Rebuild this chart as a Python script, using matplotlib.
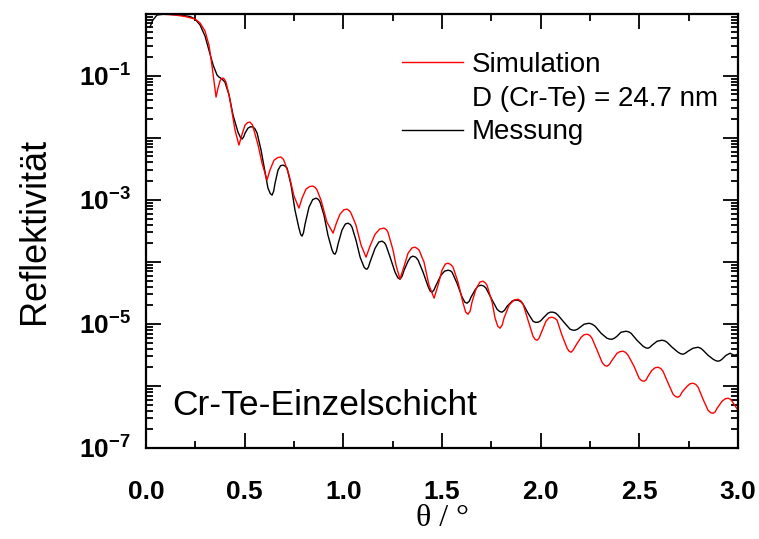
import numpy as np
import matplotlib
matplotlib.use("Agg")
import matplotlib.pyplot as plt
from matplotlib.lines import Line2D
from matplotlib.ticker import FixedLocator, FixedFormatter, LogLocator, NullFormatter, MultipleLocator

plt.rcParams['font.family'] = ['Liberation Sans', 'DejaVu Sans']
plt.rcParams['mathtext.fontset'] = 'custom'
plt.rcParams['mathtext.rm'] = 'Liberation Sans'
plt.rcParams['mathtext.bf'] = 'Liberation Sans:bold'

# ---- data: theta (deg) and log10(reflectivity) ----
sim_theta = [0.000, 0.071, 0.147, 0.198, 0.248, 0.274, 0.299, 0.319, 0.334, 0.345, 0.355,
             0.365, 0.375, 0.383, 0.390, 0.397, 0.405, 0.421, 0.436, 0.451, 0.471, 0.487,
             0.502, 0.515, 0.527, 0.539, 0.547, 0.568, 0.588, 0.613, 0.628, 0.649, 0.668,
             0.684, 0.696, 0.704, 0.725, 0.750, 0.775, 0.791, 0.811, 0.830, 0.846, 0.859,
             0.867, 0.887, 0.917, 0.948, 0.963, 0.983, 1.003, 1.019, 1.032, 1.039, 1.064,
             1.090, 1.115, 1.135, 1.161, 1.185, 1.206, 1.218, 1.226, 1.252, 1.267, 1.287,
             1.308, 1.328, 1.348, 1.363, 1.375, 1.384, 1.409, 1.434, 1.460, 1.480, 1.500,
             1.517, 1.531, 1.545, 1.556, 1.581, 1.607, 1.620, 1.632, 1.643, 1.652, 1.672,
             1.692, 1.708, 1.720, 1.728, 1.754, 1.769, 1.783, 1.794, 1.805, 1.814, 1.840,
             1.865, 1.885, 1.900, 1.911, 1.936, 1.961, 1.972, 1.982, 1.992, 2.002, 2.027,
             2.043, 2.058, 2.072, 2.083, 2.108, 2.134, 2.144, 2.154, 2.165, 2.179, 2.205,
             2.220, 2.235, 2.249, 2.260, 2.286, 2.311, 2.324, 2.336, 2.348, 2.362, 2.387,
             2.402, 2.417, 2.431, 2.443, 2.473, 2.499, 2.512, 2.524, 2.535, 2.544, 2.564,
             2.580, 2.595, 2.609, 2.620, 2.646, 2.671, 2.684, 2.696, 2.706, 2.716, 2.742,
             2.757, 2.772, 2.786, 2.798, 2.823, 2.848, 2.862, 2.874, 2.884, 2.894, 2.919,
             2.935, 2.950, 2.962, 2.970, 2.990, 3.000]
sim_logR = [-0.005, -0.005, -0.021, -0.045, -0.085, -0.150, -0.279, -0.505, -0.827, -1.102, -1.344,
            -1.198, -1.085, -1.045, -1.037, -1.055, -1.102, -1.311, -1.585, -1.876, -2.118, -1.940,
            -1.795, -1.755, -1.747, -1.790, -1.876, -2.118, -2.408, -2.682, -2.521, -2.360, -2.318,
            -2.311, -2.345, -2.408, -2.602, -2.940, -3.134, -2.973, -2.827, -2.785, -2.779, -2.805,
            -2.844, -3.005, -3.360, -3.537, -3.392, -3.231, -3.160, -3.150, -3.180, -3.215, -3.408,
            -3.731, -3.924, -3.747, -3.553, -3.470, -3.456, -3.480, -3.521, -3.811, -4.053, -4.279,
            -4.069, -3.860, -3.775, -3.763, -3.785, -3.811, -4.005, -4.376, -4.585, -4.376, -4.134,
            -4.035, -4.021, -4.045, -4.085, -4.327, -4.666, -4.810, -4.844, -4.790, -4.650, -4.440,
            -4.325, -4.311, -4.340, -4.376, -4.650, -4.908, -5.040, -5.069, -5.020, -4.908, -4.698,
            -4.615, -4.602, -4.630, -4.682, -4.940, -5.198, -5.250, -5.263, -5.230, -5.150, -4.956,
            -4.900, -4.892, -4.910, -4.940, -5.182, -5.392, -5.440, -5.456, -5.420, -5.344, -5.215,
            -5.175, -5.166, -5.185, -5.231, -5.424, -5.618, -5.670, -5.682, -5.655, -5.585, -5.473,
            -5.447, -5.440, -5.460, -5.505, -5.682, -5.876, -5.915, -5.924, -5.900, -5.844, -5.747,
            -5.707, -5.698, -5.720, -5.763, -5.956, -6.134, -6.172, -6.182, -6.160, -6.102, -6.005,
            -5.965, -5.956, -5.975, -6.021, -6.215, -6.392, -6.432, -6.440, -6.420, -6.360, -6.247,
            -6.207, -6.198, -6.215, -6.247, -6.344, -6.392]

meas_theta = [0.020, 0.035, 0.056, 0.096, 0.172, 0.223, 0.248, 0.274, 0.299, 0.319, 0.340,
              0.360, 0.370, 0.385, 0.400, 0.421, 0.441, 0.466, 0.478, 0.487, 0.495, 0.502,
              0.517, 0.530, 0.543, 0.553, 0.563, 0.583, 0.603, 0.618, 0.630, 0.639, 0.647,
              0.654, 0.669, 0.682, 0.694, 0.706, 0.715, 0.735, 0.755, 0.775, 0.784, 0.791,
              0.798, 0.806, 0.826, 0.845, 0.862, 0.874, 0.882, 0.902, 0.922, 0.943, 0.951,
              0.958, 0.965, 0.973, 0.993, 1.010, 1.024, 1.036, 1.044, 1.064, 1.085, 1.105,
              1.113, 1.120, 1.127, 1.135, 1.161, 1.180, 1.196, 1.208, 1.216, 1.237, 1.262,
              1.276, 1.287, 1.298, 1.308, 1.328, 1.341, 1.353, 1.367, 1.379, 1.404, 1.429,
              1.440, 1.449, 1.459, 1.470, 1.495, 1.513, 1.531, 1.543, 1.551, 1.576, 1.602,
              1.616, 1.627, 1.638, 1.647, 1.667, 1.683, 1.698, 1.712, 1.723, 1.749, 1.779,
              1.792, 1.804, 1.817, 1.830, 1.855, 1.870, 1.885, 1.899, 1.911, 1.936, 1.961,
              1.974, 1.987, 2.000, 2.012, 2.037, 2.050, 2.063, 2.076, 2.088, 2.118, 2.149,
              2.162, 2.174, 2.187, 2.200, 2.220, 2.245, 2.261, 2.276, 2.306, 2.336, 2.349,
              2.362, 2.375, 2.387, 2.407, 2.433, 2.446, 2.458, 2.488, 2.519, 2.532, 2.544,
              2.554, 2.564, 2.590, 2.615, 2.628, 2.640, 2.666, 2.696, 2.709, 2.722, 2.734,
              2.747, 2.772, 2.798, 2.811, 2.823, 2.848, 2.874, 2.887, 2.899, 2.910, 2.919,
              2.940, 2.960, 2.980, 3.000]
meas_logR = [-0.215, -0.102, -0.021, -0.005, -0.021, -0.045, -0.085, -0.182, -0.360, -0.585, -0.827,
             -0.989, -1.021, -1.053, -1.102, -1.311, -1.634, -1.908, -1.990, -2.021, -1.985, -1.924,
             -1.844, -1.822, -1.827, -1.860, -1.924, -2.198, -2.553, -2.811, -2.900, -2.924, -2.860,
             -2.731, -2.521, -2.450, -2.440, -2.458, -2.489, -2.763, -3.166, -3.456, -3.560, -3.585,
             -3.530, -3.392, -3.118, -2.995, -2.973, -2.995, -3.037, -3.247, -3.569, -3.811, -3.865,
             -3.876, -3.830, -3.715, -3.489, -3.390, -3.376, -3.400, -3.440, -3.650, -3.924, -4.085,
             -4.112, -4.118, -4.085, -4.005, -3.779, -3.680, -3.666, -3.690, -3.731, -3.924, -4.166,
             -4.255, -4.279, -4.230, -4.134, -3.989, -3.925, -3.908, -3.925, -3.972, -4.166, -4.392,
             -4.470, -4.489, -4.455, -4.376, -4.215, -4.150, -4.134, -4.145, -4.166, -4.344, -4.569,
             -4.650, -4.666, -4.635, -4.569, -4.456, -4.390, -4.376, -4.390, -4.424, -4.585, -4.763,
             -4.800, -4.811, -4.780, -4.715, -4.634, -4.617, -4.618, -4.640, -4.682, -4.827, -4.956,
             -4.975, -4.973, -4.950, -4.908, -4.827, -4.810, -4.811, -4.825, -4.860, -4.973, -5.085,
             -5.100, -5.102, -5.085, -5.053, -5.005, -4.989, -5.005, -5.037, -5.150, -5.231, -5.245,
             -5.247, -5.228, -5.198, -5.134, -5.118, -5.128, -5.150, -5.263, -5.360, -5.385, -5.392,
             -5.375, -5.344, -5.279, -5.263, -5.272, -5.295, -5.376, -5.456, -5.480, -5.489, -5.470,
             -5.440, -5.392, -5.376, -5.392, -5.424, -5.505, -5.569, -5.592, -5.602, -5.590, -5.569,
             -5.505, -5.473, -5.505, -5.489]

x_ticks = [0.0, 0.5, 1.0, 1.5, 2.0, 2.5, 3.0]
x_tick_labels = ['0.0', '0.5', '1.0', '1.5', '2.0', '2.5', '3.0']
y_ticks = [1e-7, 1e-6, 1e-5, 1e-4, 1e-3, 1e-2, 1e-1, 1e0]
y_tick_labels = [r'$\mathbf{10^{-7}}$', '', r'$\mathbf{10^{-5}}$', '', r'$\mathbf{10^{-3}}$', '',
                 r'$\mathbf{10^{-1}}$', '']

legend_labels = ['Simulation', 'D (Cr-Te) = 24.7 nm', 'Messung']
annotation = 'Cr-Te-Einzelschicht'

sim_R = 10 ** np.array(sim_logR)
meas_R = 10 ** np.array(meas_logR)

fig = plt.figure(figsize=(7.59, 5.39), dpi=100)
ax = fig.add_axes([146 / 759, 1 - 448 / 539, 592 / 759, 434.3 / 539])

ax.plot(meas_theta, meas_R, color='black', lw=1.0)
ax.plot(sim_theta, sim_R, color='#ff0000', lw=1.0)

ax.set_yscale('log')
ax.set_xlim(0, 3.0)
ax.set_ylim(1e-7, 1.0)

ax.xaxis.set_major_locator(FixedLocator(x_ticks))
ax.xaxis.set_major_formatter(FixedFormatter(x_tick_labels))
ax.xaxis.set_minor_locator(MultipleLocator(0.25))
ax.yaxis.set_major_locator(FixedLocator(y_ticks))
ax.yaxis.set_major_formatter(FixedFormatter(y_tick_labels))
ax.yaxis.set_minor_locator(LogLocator(base=10, subs=np.arange(2, 10)))
ax.yaxis.set_minor_formatter(NullFormatter())

ax.tick_params(which='both', direction='in', top=True, right=True, width=1.3, color='black')
ax.tick_params(which='major', length=11)
ax.tick_params(which='minor', length=5)
ax.tick_params(axis='x', which='major', pad=23, labelsize=19)
ax.tick_params(axis='y', which='major', pad=11, labelsize=19)
for lab in ax.get_xticklabels():
    lab.set_fontweight('bold')
for s in ax.spines.values():
    s.set_linewidth(1.6)

ax.set_xlabel('θ / °', fontsize=23, family=['Liberation Serif', 'DejaVu Serif'], labelpad=0)
ax.set_ylabel('Reflektivität', fontsize=26, labelpad=19)

handles = [Line2D([], [], color='#ff0000', lw=1.0),
           Line2D([], [], color='none', lw=0),
           Line2D([], [], color='black', lw=1.0)]
ax.legend(handles, legend_labels, loc='upper left', bbox_to_anchor=(0.432, 0.912),
          frameon=False, fontsize=20, handlelength=2.2, handletextpad=0.33,
          labelspacing=0.28, borderpad=0, borderaxespad=0)

ax.text(0.044, 0.099, annotation, transform=ax.transAxes, fontsize=25.5,
        ha='left', va='center')

fig.savefig('out.png', dpi=100)
